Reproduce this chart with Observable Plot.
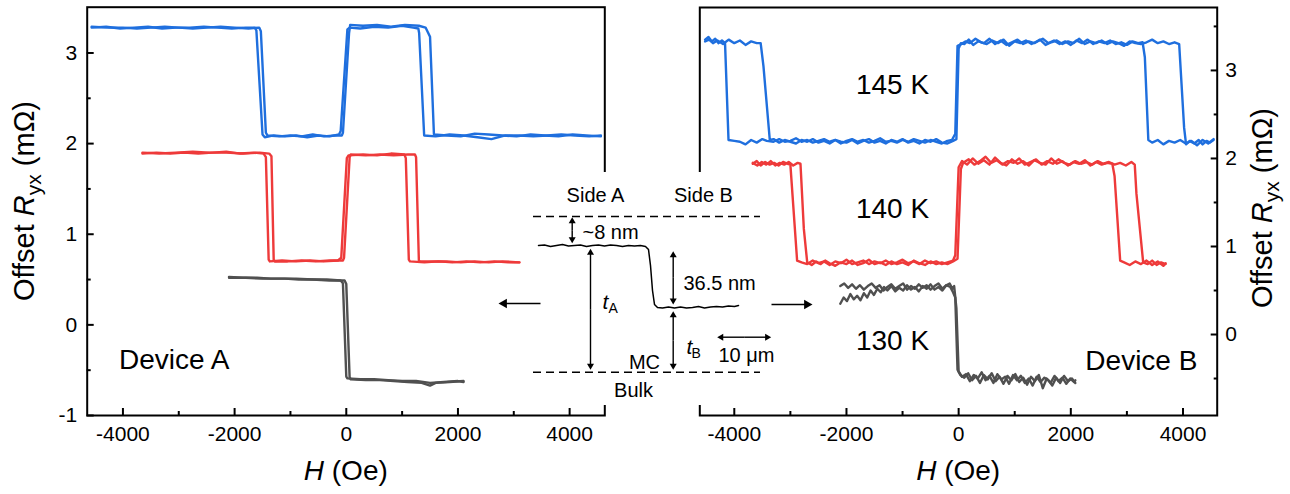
<!DOCTYPE html>
<html><head><meta charset="utf-8">
<script src="https://cdn.jsdelivr.net/npm/d3@7"></script>
<script src="https://cdn.jsdelivr.net/npm/@observablehq/plot@0.6"></script>
<style>
html,body{margin:0;padding:0;background:#fff;}
#wrap{position:relative;width:1290px;height:494px;overflow:hidden;font-family:"Liberation Sans",Arial,Helvetica,sans-serif;}
#wrap svg{position:absolute;top:0;}
</style></head><body><div id="wrap"></div>
<script>
// ---------- ticks ----------
const xMajor = [-4000, -2000, 0, 2000, 4000];
const xMinor = [-3000, -1000, 1000, 3000];
const yMajorA = [-1, 0, 1, 2, 3];
const yMinorA = [-0.5, 0.5, 1.5, 2.5];
const yMajorB = [0, 1, 2, 3];
const yMinorB = [-0.5, 0.5, 1.5, 2.5, 3.5];
const colors = {blue: "#1f6fde", red: "#ee3a3a", gray: "#505050"};

// ---------- Device A (H in Oe, offset Ryx in mOhm) ----------
const A_blue_1 = [[-4560,3.28],[-4300,3.29],[-4050,3.27],[-3800,3.28],[-3550,3.29],[-3300,3.27],[-3050,3.28],[-2800,3.28],[-2550,3.29],[-2300,3.28],[-2050,3.27],[-1800,3.28],[-1640,3.28],[-1610,3.25],[-1500,2.10],[-1460,2.07],[-1300,2.09],[-1100,2.08],[-900,2.09],[-700,2.07],[-500,2.09],[-300,2.08],[-130,2.10],[-100,2.14],[20,3.26],[60,3.28],[250,3.27],[500,3.29],[750,3.28],[1000,3.30],[1200,3.28],[1290,3.27],[1305,3.22],[1395,2.09],[1600,2.08],[1850,2.10],[2100,2.09],[2350,2.07],[2600,2.05],[2850,2.09],[3100,2.09],[3350,2.08],[3600,2.09],[3850,2.10],[4100,2.09],[4350,2.08],[4560,2.09]];
const A_blue_2 = [[-4560,3.29],[-4250,3.28],[-4000,3.28],[-3750,3.27],[-3500,3.28],[-3250,3.29],[-3000,3.28],[-2750,3.27],[-2500,3.28],[-2250,3.29],[-2000,3.28],[-1750,3.27],[-1560,3.28],[-1530,3.24],[-1440,2.12],[-1412,2.09],[-1200,2.08],[-1000,2.09],[-800,2.08],[-600,2.10],[-400,2.08],[-200,2.09],[-80,2.09],[-60,2.12],[50,3.22],[70,3.31],[300,3.30],[550,3.31],[800,3.29],[1050,3.31],[1300,3.30],[1420,3.28],[1500,3.18],[1515,2.95],[1570,2.10],[1800,2.09],[2050,2.08],[2300,2.11],[2550,2.10],[2800,2.09],[3050,2.08],[3300,2.10],[3550,2.09],[3800,2.08],[4050,2.10],[4300,2.09],[4560,2.08]];
const A_red_1 = [[-3650,1.89],[-3400,1.90],[-3150,1.89],[-2900,1.90],[-2650,1.89],[-2400,1.90],[-2150,1.91],[-1900,1.89],[-1650,1.90],[-1480,1.89],[-1440,1.85],[-1390,0.72],[-1370,0.70],[-1150,0.71],[-900,0.70],[-650,0.71],[-400,0.70],[-150,0.71],[-90,0.74],[10,1.84],[40,1.87],[300,1.88],[550,1.87],[800,1.89],[1040,1.88],[1066,1.84],[1120,0.72],[1140,0.70],[1400,0.69],[1650,0.70],[1900,0.69],[2150,0.70],[2400,0.69],[2650,0.70],[2900,0.69],[3100,0.69]];
const A_red_2 = [[-3650,1.90],[-3350,1.89],[-3050,1.90],[-2750,1.91],[-2450,1.90],[-2150,1.90],[-1850,1.89],[-1550,1.90],[-1380,1.89],[-1340,1.86],[-1300,0.72],[-1280,0.70],[-1050,0.70],[-800,0.71],[-550,0.70],[-300,0.71],[-60,0.71],[-40,0.74],[60,1.85],[80,1.88],[350,1.87],[600,1.88],[850,1.87],[1100,1.88],[1230,1.88],[1250,1.85],[1300,0.71],[1320,0.70],[1550,0.70],[1800,0.70],[2050,0.69],[2300,0.70],[2550,0.69],[2800,0.70],[3100,0.69]];
const A_gray_1 = [[-2100,0.53],[-1850,0.52],[-1600,0.52],[-1350,0.51],[-1100,0.51],[-850,0.50],[-600,0.50],[-350,0.50],[-100,0.49],[-60,0.46],[0,-0.57],[20,-0.59],[250,-0.60],[500,-0.60],[750,-0.61],[1000,-0.62],[1250,-0.62],[1500,-0.64],[1750,-0.63],[2000,-0.62],[2100,-0.63]];
const A_gray_2 = [[-2100,0.52],[-1800,0.52],[-1500,0.51],[-1200,0.51],[-900,0.51],[-600,0.50],[-300,0.49],[-30,0.49],[0,0.45],[60,-0.58],[80,-0.60],[350,-0.61],[600,-0.61],[850,-0.62],[1100,-0.63],[1350,-0.64],[1500,-0.67],[1600,-0.64],[1850,-0.63],[2100,-0.62]];

// ---------- Device B ----------
const B_blue_1 = [[-4520,3.35],[-4460,3.38],[-4400,3.33],[-4340,3.36],[-4280,3.31],[-4220,3.34],[-4165,3.31],[-4103,2.21],[-4000,2.20],[-3900,2.19],[-3800,2.16],[-3700,2.21],[-3600,2.18],[-3500,2.22],[-3420,2.20],[-3300,2.19],[-3200,2.22],[-3100,2.19],[-3000,2.20],[-2900,2.23],[-2800,2.19],[-2700,2.21],[-2600,2.18],[-2500,2.20],[-2400,2.22],[-2300,2.19],[-2200,2.21],[-2100,2.17],[-2000,2.20],[-1900,2.22],[-1800,2.19],[-1700,2.21],[-1600,2.18],[-1500,2.20],[-1400,2.23],[-1300,2.19],[-1200,2.20],[-1100,2.18],[-1000,2.21],[-900,2.19],[-800,2.22],[-700,2.20],[-600,2.18],[-500,2.21],[-400,2.19],[-300,2.17],[-200,2.20],[-120,2.21],[-60,2.28],[-20,3.28],[50,3.30],[120,3.33],[200,3.31],[300,3.36],[400,3.32],[500,3.30],[600,3.34],[700,3.31],[800,3.35],[900,3.28],[1000,3.33],[1100,3.31],[1200,3.34],[1300,3.30],[1400,3.33],[1500,3.36],[1600,3.31],[1700,3.34],[1800,3.30],[1900,3.33],[2000,3.29],[2100,3.34],[2200,3.31],[2300,3.35],[2400,3.30],[2500,3.33],[2600,3.31],[2700,3.34],[2800,3.30],[2900,3.32],[3000,3.29],[3100,3.33],[3200,3.31],[3280,3.32],[3320,3.15],[3382,2.21],[3450,2.18],[3550,2.21],[3650,2.16],[3750,2.20],[3850,2.18],[3950,2.21],[4050,2.17],[4150,2.20],[4250,2.15],[4350,2.21],[4450,2.17],[4545,2.22]];
const B_blue_2 = [[-4520,3.33],[-4450,3.35],[-4380,3.31],[-4300,3.34],[-4200,3.30],[-4100,3.35],[-4000,3.31],[-3900,3.34],[-3800,3.29],[-3700,3.33],[-3600,3.31],[-3530,3.31],[-3480,3.05],[-3367,2.21],[-3300,2.22],[-3200,2.18],[-3100,2.21],[-3000,2.19],[-2900,2.17],[-2800,2.21],[-2700,2.19],[-2600,2.22],[-2500,2.18],[-2400,2.20],[-2300,2.17],[-2200,2.21],[-2100,2.19],[-2000,2.18],[-1900,2.21],[-1800,2.17],[-1700,2.20],[-1600,2.22],[-1500,2.18],[-1400,2.20],[-1300,2.17],[-1200,2.21],[-1100,2.19],[-1000,2.22],[-900,2.18],[-800,2.20],[-700,2.17],[-600,2.21],[-500,2.19],[-400,2.22],[-300,2.18],[-200,2.17],[-100,2.20],[-40,2.22],[0,3.25],[40,3.31],[100,3.30],[180,3.35],[260,3.29],[350,3.33],[450,3.31],[550,3.36],[650,3.30],[750,3.34],[850,3.29],[950,3.32],[1050,3.35],[1150,3.30],[1250,3.33],[1350,3.31],[1450,3.35],[1550,3.29],[1650,3.32],[1750,3.34],[1850,3.30],[1950,3.33],[2050,3.31],[2150,3.36],[2250,3.30],[2350,3.33],[2450,3.31],[2550,3.34],[2650,3.30],[2750,3.33],[2850,3.31],[2950,3.28],[3050,3.33],[3150,3.31],[3250,3.30],[3350,3.32],[3450,3.35],[3550,3.31],[3650,3.33],[3750,3.30],[3850,3.32],[3932,3.30],[4020,2.35],[4055,2.16],[4120,2.20],[4200,2.17],[4280,2.21],[4350,2.16],[4420,2.20],[4480,2.18],[4545,2.21]];
const B_red_1 = [[-3670,1.94],[-3600,1.97],[-3530,1.92],[-3450,1.96],[-3370,1.93],[-3290,1.95],[-3210,1.92],[-3130,1.96],[-3050,1.94],[-3000,1.93],[-2880,0.84],[-2800,0.82],[-2700,0.80],[-2600,0.84],[-2500,0.81],[-2400,0.83],[-2300,0.79],[-2200,0.83],[-2100,0.81],[-2000,0.85],[-1900,0.80],[-1800,0.82],[-1700,0.84],[-1600,0.80],[-1500,0.83],[-1400,0.81],[-1300,0.84],[-1200,0.80],[-1100,0.82],[-1000,0.85],[-900,0.81],[-800,0.83],[-700,0.80],[-600,0.84],[-500,0.81],[-400,0.83],[-300,0.80],[-200,0.82],[-100,0.84],[-60,0.90],[0,1.90],[60,1.97],[150,1.93],[250,2.00],[350,1.94],[450,1.98],[550,1.93],[650,2.01],[750,1.95],[850,1.92],[950,1.99],[1050,1.94],[1150,1.97],[1250,1.92],[1350,1.98],[1450,1.95],[1550,1.93],[1650,2.00],[1750,1.94],[1850,1.97],[1950,1.92],[2050,1.96],[2150,1.94],[2250,1.98],[2350,1.92],[2450,1.96],[2550,1.93],[2650,1.95],[2740,1.94],[2780,1.80],[2880,0.84],[2950,0.82],[3050,0.79],[3150,0.83],[3250,0.80],[3350,0.84],[3450,0.79],[3550,0.83],[3650,0.78],[3690,0.81]];
const B_red_2 = [[-3670,1.95],[-3590,1.92],[-3510,1.96],[-3430,1.93],[-3350,1.97],[-3270,1.92],[-3190,1.95],[-3110,1.93],[-3030,1.96],[-2950,1.92],[-2870,1.95],[-2820,1.94],[-2760,1.20],[-2700,0.82],[-2620,0.79],[-2540,0.83],[-2460,0.80],[-2380,0.84],[-2300,0.81],[-2200,0.78],[-2100,0.82],[-2000,0.80],[-1900,0.84],[-1800,0.79],[-1700,0.81],[-1600,0.85],[-1500,0.80],[-1400,0.82],[-1300,0.79],[-1200,0.83],[-1100,0.80],[-1000,0.82],[-900,0.79],[-800,0.84],[-700,0.81],[-600,0.79],[-500,0.83],[-400,0.80],[-300,0.82],[-200,0.80],[-100,0.83],[-20,0.86],[40,1.88],[80,1.95],[180,1.99],[280,1.93],[380,1.97],[480,2.02],[580,1.95],[680,1.98],[780,1.93],[880,1.97],[980,1.95],[1080,2.00],[1180,1.93],[1280,1.96],[1380,1.99],[1480,1.93],[1580,1.97],[1680,1.94],[1780,1.99],[1880,1.95],[1980,1.93],[2080,1.97],[2180,1.94],[2280,1.96],[2380,1.93],[2480,1.97],[2580,1.94],[2680,1.96],[2780,1.93],[2880,1.95],[2980,1.92],[3080,1.96],[3140,1.93],[3170,1.60],[3290,0.82],[3370,0.80],[3450,0.84],[3530,0.79],[3610,0.82],[3690,0.80]];
const B_gray_1 = [[-2110,0.55],[-2040,0.58],[-1970,0.53],[-1900,0.57],[-1830,0.52],[-1760,0.56],[-1690,0.51],[-1620,0.55],[-1550,0.58],[-1480,0.53],[-1410,0.56],[-1340,0.50],[-1270,0.54],[-1200,0.57],[-1130,0.52],[-1060,0.55],[-990,0.58],[-920,0.51],[-850,0.55],[-780,0.52],[-710,0.57],[-640,0.53],[-570,0.56],[-500,0.51],[-430,0.55],[-360,0.58],[-290,0.52],[-220,0.56],[-150,0.54],[-100,0.48],[-60,0.42],[-20,-0.40],[30,-0.46],[100,-0.49],[170,-0.44],[240,-0.52],[310,-0.47],[380,-0.55],[450,-0.46],[520,-0.51],[590,-0.44],[660,-0.53],[730,-0.48],[800,-0.56],[870,-0.47],[940,-0.52],[1010,-0.45],[1080,-0.54],[1150,-0.49],[1220,-0.57],[1290,-0.48],[1360,-0.53],[1430,-0.46],[1500,-0.61],[1570,-0.50],[1640,-0.55],[1710,-0.47],[1780,-0.53],[1850,-0.49],[1920,-0.56],[1990,-0.50],[2060,-0.54],[2080,-0.52]];
const B_gray_2 = [[-2110,0.35],[-2050,0.42],[-1990,0.38],[-1930,0.46],[-1870,0.40],[-1810,0.44],[-1750,0.39],[-1690,0.47],[-1630,0.42],[-1570,0.50],[-1510,0.45],[-1450,0.52],[-1390,0.48],[-1330,0.54],[-1270,0.50],[-1200,0.55],[-1130,0.49],[-1060,0.53],[-990,0.50],[-920,0.56],[-850,0.51],[-780,0.54],[-710,0.49],[-640,0.55],[-570,0.52],[-500,0.57],[-430,0.51],[-360,0.54],[-290,0.50],[-220,0.56],[-160,0.58],[-110,0.52],[-80,0.55],[-40,0.30],[0,-0.42],[60,-0.48],[130,-0.45],[200,-0.53],[270,-0.46],[340,-0.50],[410,-0.43],[480,-0.52],[550,-0.47],[620,-0.55],[690,-0.45],[760,-0.51],[830,-0.48],[900,-0.56],[970,-0.46],[1040,-0.52],[1110,-0.47],[1180,-0.55],[1250,-0.50],[1320,-0.58],[1390,-0.48],[1460,-0.54],[1530,-0.49],[1600,-0.52],[1670,-0.58],[1740,-0.49],[1810,-0.55],[1880,-0.47],[1950,-0.53],[2020,-0.50],[2080,-0.55]];

// annotation anchors (data units)
const labelsA = [{text: "Device A", H: -3082, R: -0.39}];
const labelsB = [{text: "145 K", H: -1180, R: 2.83}, {text: "140 K", H: -1180, R: 1.43}, {text: "130 K", H: -1180, R: -0.07}, {text: "Device B", H: 3258, R: -0.30}];

// ---------- inset schematic (local units) ----------
const insetBox = [{x1: 35, x2: 285, y1: 7, y2: 240}];
const insetDashes = [{y: 51, x1: 43, x2: 270}, {y: 206.7, x1: 43, x2: 270}];
const insetProfile = [[48,80],[54,79.5],[60,81],[66,80],[72,79],[78,80.5],[84,80],[90,79.5],[96,81],[102,80],[108,79.5],[114,80.5],[120,79.5],[126,80],[132,81],[138,80],[144,80.5],[150,80],[155,81],[158,84],[160,100],[162,125],[164,139],[167,142],[172,142.5],[178,141.5],[184,142.5],[190,141.5],[196,142.5],[202,142],[208,141],[214,142.5],[220,141.5],[226,141],[232,141.5],[238,140.5],[244,141],[248,140]];
const insetDoubleArrows = [
  {x1: 81.7, y1: 51.7, x2: 81.7, y2: 77.7},
  {x1: 100, y1: 83.3, x2: 100, y2: 204.3},
  {x1: 182.7, y1: 85.7, x2: 182.7, y2: 139},
  {x1: 182.7, y1: 145.7, x2: 182.7, y2: 204.3},
  {x1: 226.7, y1: 171.7, x2: 280.7, y2: 171.7}
];
const insetArrows = [{x1: 50, y1: 138, x2: 8, y2: 138}, {x1: 281, y1: 139, x2: 322, y2: 139}];
const insetCenterText = [
  {text: "Side A", x: 105, y: 30}, {text: "Side B", x: 213, y: 30},
  {text: "MC", x: 154, y: 197}, {text: "10 \u03bcm", x: 256, y: 190}, {text: "Bulk", x: 143, y: 225}
];
const insetStartText = [{text: "~8 nm", x: 92, y: 67}, {text: "36.5 nm", x: 193, y: 118}];
const insetItalic = [{text: "t", x: 112, y: 137}, {text: "t", x: 196, y: 182}];
const insetSub = [{text: "A", x: 118, y: 143}, {text: "B", x: 201, y: 188}];

// ---------- helpers ----------
const FONT = '"Liberation Sans", Arial, Helvetica, sans-serif';
const fmt = d => String(d);
function lines(traces, color) {
  return traces.map(t => Plot.line(t, {x: d => d[0], y: d => d[1], stroke: color, strokeWidth: 2.4, strokeLinejoin: "round", strokeLinecap: "round"}));
}
function panel(opts) {
  return Plot.plot({
    width: 645, height: 494,
    marginLeft: opts.ml, marginRight: opts.mr, marginTop: opts.mt, marginBottom: 79,
    x: {domain: opts.xd},
    y: {domain: opts.yd},
    style: {fontFamily: FONT, fontSize: "21px", background: "transparent", color: "#000", overflow: "visible"},
    marks: [
      ...opts.marks,
      Plot.axisX({ticks: xMajor, tickSize: -7, tickPadding: 18, tickFormat: fmt, strokeWidth: 2, label: null}),
      Plot.axisX({ticks: xMinor, tickSize: -4, text: null, strokeWidth: 2, label: null}),
      Plot.axisY({anchor: opts.yAnchor, ticks: opts.yMajor, tickSize: -7, tickPadding: opts.yPad, tickFormat: fmt, strokeWidth: 2, label: null}),
      Plot.axisY({anchor: opts.yAnchor, ticks: opts.yMinor, tickSize: -4, text: null, strokeWidth: 2, label: null}),
      Plot.text(opts.labels, {x: "H", y: "R", text: "text", fontSize: 28, fill: "#000"}),
      Plot.frame({stroke: "#000", strokeWidth: 2})
    ]
  });
}

const wrap = document.getElementById("wrap");

const left = panel({
  ml: 86.7, mr: 40.7, mt: 6.7, xd: [-4640, 4630], yd: [-1, 3.505],
  yAnchor: "left", yMajor: yMajorA, yMinor: yMinorA, yPad: 17, labels: labelsA,
  marks: [...lines([A_blue_1, A_blue_2], colors.blue), ...lines([A_red_1, A_red_2], colors.red), ...lines([A_gray_1, A_gray_2], colors.gray)]
});
left.style.left = "0px";
wrap.appendChild(left);

const right = panel({
  ml: 54.3, mr: 73.3, mt: 7, xd: [-4615, 4610], yd: [-0.92, 3.715],
  yAnchor: "right", yMajor: yMajorB, yMinor: yMinorB, yPad: 15, labels: labelsB,
  marks: [...lines([B_blue_1, B_blue_2], colors.blue), ...lines([B_red_1, B_red_2], colors.red), ...lines([B_gray_1, B_gray_2], colors.gray)]
});
right.style.left = "645px";
wrap.appendChild(right);

// axis titles with italic symbols and subscripts
function xTitle(svg) {
  const cx = svg.scale("x").apply(0);
  const t = d3.select(svg).append("text").attr("x", cx).attr("y", 480).attr("text-anchor", "middle")
    .attr("font-size", 28).attr("font-family", FONT).attr("fill", "#000");
  t.append("tspan").attr("font-style", "italic").text("H");
  t.append("tspan").text(" (Oe)");
}
function yTitle(svg, x, y) {
  const t = d3.select(svg).append("text").attr("transform", `translate(${x},${y}) rotate(-90)`)
    .attr("text-anchor", "middle").attr("font-size", 29).attr("font-family", FONT).attr("fill", "#000");
  t.append("tspan").text("Offset ");
  t.append("tspan").attr("font-style", "italic").text("R");
  t.append("tspan").attr("font-size", 21).attr("dy", 7).text("yx");
  t.append("tspan").attr("dy", -7).text(" (m\u03a9)");
}
xTitle(left); xTitle(right);
yTitle(left, 34, 201);
yTitle(right, 1272 - 645, 208);

// inset schematic overlay: arrows as shaft + filled triangular head
const HEAD = 2.6, BIGHEAD = 3.6;
function headFor(x1, y1, x2, y2, r) {
  const L = Math.hypot(x2 - x1, y2 - y1), ux = (x2 - x1) / L, uy = (y2 - y1) / L;
  const c = 1.555 * r; // centroid-to-tip distance of a d3 triangle
  return {x: x2 - ux * c, y: y2 - uy * c, rot: Math.atan2(ux, -uy) * 180 / Math.PI, r,
          sx1: x1, sy1: y1, sx2: x2 - ux * 2 * r, sy2: y2 - uy * 2 * r};
}
const dblHeads = insetDoubleArrows.flatMap(d => {
  const mx = (d.x1 + d.x2) / 2, my = (d.y1 + d.y2) / 2;
  return [headFor(mx, my, d.x1, d.y1, HEAD), headFor(mx, my, d.x2, d.y2, HEAD)];
});
const bigHeads = insetArrows.map(d => headFor(d.x1, d.y1, d.x2, d.y2, BIGHEAD));

const inset = Plot.plot({
  width: 330, height: 250, margin: 0,
  x: {domain: [0, 330], range: [0, 330], axis: null},
  y: {domain: [0, 250], range: [0, 250], axis: null},
  r: {type: "identity"},
  style: {fontFamily: FONT, fontSize: "20px", background: "transparent", overflow: "visible"},
  marks: [
    Plot.rect(insetBox, {x1: "x1", x2: "x2", y1: "y1", y2: "y2", fill: "#fff"}),
    Plot.ruleY(insetDashes, {y: "y", x1: "x1", x2: "x2", stroke: "#000", strokeWidth: 1.6, strokeDasharray: "8,5"}),
    Plot.line(insetProfile, {x: d => d[0], y: d => d[1], stroke: "#000", strokeWidth: 1.5}),
    Plot.link(dblHeads, {x1: "sx1", y1: "sy1", x2: "sx2", y2: "sy2", stroke: "#000", strokeWidth: 1.4}),
    Plot.link(bigHeads, {x1: "sx1", y1: "sy1", x2: "sx2", y2: "sy2", stroke: "#000", strokeWidth: 1.6}),
    Plot.dot([...dblHeads, ...bigHeads], {x: "x", y: "y", r: "r", rotate: "rot", symbol: "triangle", fill: "#000", stroke: null}),
    Plot.text(insetCenterText, {x: "x", y: "y", text: "text", fontSize: 20, fill: "#000"}),
    Plot.text(insetStartText, {x: "x", y: "y", text: "text", fontSize: 20, textAnchor: "start", fill: "#000"}),
    Plot.text(insetItalic, {x: "x", y: "y", text: "text", fontSize: 21, fontStyle: "italic", textAnchor: "start", fill: "#000"}),
    Plot.text(insetSub, {x: "x", y: "y", text: "text", fontSize: 14, textAnchor: "start", fill: "#000"})
  ]
});
inset.style.left = "490px";
inset.style.top = "165px";
wrap.appendChild(inset);
</script></body></html>
